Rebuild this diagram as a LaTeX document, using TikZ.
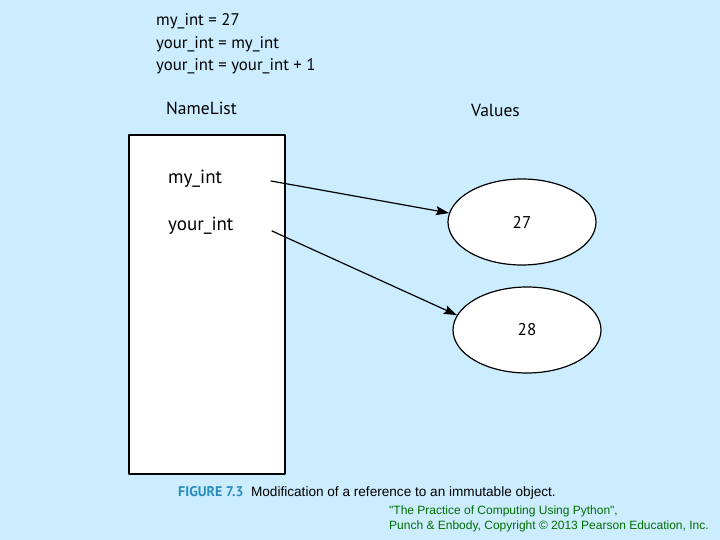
\documentclass[tikz,border=0pt]{standalone}
\usepackage{fontspec}
\setmainfont{PT Sans}
\newfontfamily\arialfont{Liberation Sans}
\usetikzlibrary{arrows.meta}
\usetikzlibrary{shapes.geometric}
\definecolor{slidebg}{RGB}{204,236,255}
\definecolor{figblue}{RGB}{40,140,190}
\definecolor{credgreen}{RGB}{0,110,0}
\tikzset{
  codeline/.style={anchor=base west,inner sep=0pt,font=\fontsize{16.8}{20}\selectfont},
  headline/.style={anchor=base west,inner sep=0pt,font=\fontsize{17.5}{20}\selectfont},
  varname/.style={anchor=base west,inner sep=0pt,font=\fontsize{19}{22}\selectfont},
  valbox/.style={ellipse,draw,fill=white,line width=1.2pt,minimum width=148pt,minimum height=86pt,font=\fontsize{17}{20}\selectfont},
  refarrow/.style={->,line width=1.2pt}
}
\begin{document}
\begin{tikzpicture}[line cap=round,line join=round,>={Stealth[length=13pt,width=9pt,inset=2pt]},x=1pt,y=-1pt]
        \fill[slidebg] (0,0) rectangle (720,540);
        \useasboundingbox (0,0) rectangle (720,540);
        % statements
        \node[codeline] (line1) at (156,26) {my\_int = 27};
        \node[codeline] (line2) at (156,48.5) {your\_int = my\_int};
        \node[codeline] (line3) at (156,71) {your\_int = your\_int + 1};
        % headings
        \node[headline] (namehead) at (166,115) {NameList};
        \node[headline] (valhead) at (471,117) {Values};
        % name list
        \draw[fill=white,line width=1.2pt] (129,135) rectangle (285,474);
        \node[varname] (myint) at (168,184) {my\_int};
        \node[varname] (yourint) at (168,230) {your\_int};
        % values
        \node[valbox] (val27) at (522,222) {27};
        \node[valbox] (val28) at (527,330) {28};
        \draw[refarrow] (271,181) -- (val27.173);
        \draw[refarrow] (272,231) -- (val28.168);
        % caption
        \node[anchor=base west,inner sep=0pt,font=\arialfont\fontsize{13.6}{16}\selectfont] (caption) at (178,496)
          {\textcolor{figblue}{\fontspec{PT Sans}\bfseries\fontsize{14}{16}\selectfont FIGURE 7.3}\ \ Modification of a reference to an immutable object.};
        \node[anchor=north west,inner sep=0pt,align=left,text=credgreen,font=\arialfont\fontsize{12}{15}\selectfont] (credit) at (389,506)
          {"The Practice of Computing Using Python",\\Punch \& Enbody, Copyright \textcopyright{} 2013 Pearson Education, Inc.};
      \end{tikzpicture}
\end{document}
